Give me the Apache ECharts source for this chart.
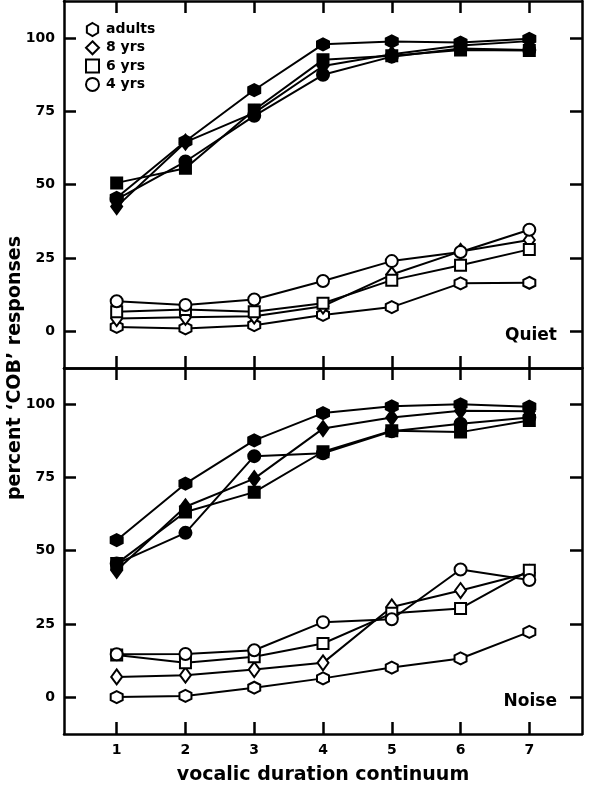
<!DOCTYPE html>
<html><head><meta charset="utf-8">
<script src="https://cdn.jsdelivr.net/npm/echarts@6/dist/echarts.min.js"></script>
<style>html,body{margin:0;padding:0;background:#fff}#c{width:596px;height:786px}</style>
</head><body><div id="c"></div><script>
// ---- data ----
const steps = [1, 2, 3, 4, 5, 6, 7];
const yTickValues = [0, 25, 50, 75, 100];
const groupNames = ['adults', '8 yrs', '6 yrs', '4 yrs'];

// Quiet panel, filled symbols
const quietFilledAdults = [45.5, 64.8, 82.3, 97.9, 98.9, 98.5, 99.8];
const quietFilled8 = [42.5, 64.5, 74.5, 90.5, 94.5, 97.5, 99.0];
const quietFilled6 = [50.6, 55.6, 75.5, 92.6, 94.0, 96.0, 95.8];
const quietFilled4 = [45.0, 57.9, 73.5, 87.5, 93.7, 96.5, 96.0];
// Quiet panel, open symbols
const quietOpenAdults = [1.4, 0.9, 2.0, 5.5, 8.2, 16.3, 16.5];
const quietOpen8 = [4.3, 4.7, 5.1, 8.5, 19.3, 27.2, 31.1];
const quietOpen6 = [6.6, 7.4, 6.6, 9.5, 17.4, 22.5, 27.9];
const quietOpen4 = [10.2, 8.9, 10.8, 17.1, 23.9, 27.0, 34.6];

// Noise panel, filled symbols
const noiseFilledAdults = [53.6, 72.9, 87.7, 97.0, 99.3, 100.0, 99.2];
const noiseFilled8 = [43.3, 65.0, 74.6, 91.7, 95.5, 97.8, 97.6];
const noiseFilled6 = [45.6, 63.2, 70.0, 83.8, 91.0, 90.5, 94.5];
const noiseFilled4 = [45.6, 56.1, 82.3, 83.3, 90.8, 93.4, 95.5];
// Noise panel, open symbols
const noiseOpenAdults = [0.0, 0.4, 3.2, 6.4, 10.1, 13.2, 22.3];
const noiseOpen8 = [6.9, 7.5, 9.4, 11.7, 30.8, 36.4, 42.5];
const noiseOpen6 = [14.4, 11.7, 13.8, 18.3, 28.6, 30.3, 43.3];
const noiseOpen4 = [14.6, 14.7, 16.0, 25.6, 26.6, 43.6, 40.0];

// ---- styling ----
const hexPath = 'path://M0,-10L8.66,-5L8.66,5L0,10L-8.66,5L-8.66,-5Z';
const symbols = {
  'adults': { symbol: hexPath, size: 12 },
  '8 yrs': { symbol: 'diamond', size: [11, 15] },
  '6 yrs': { symbol: 'rect', size: 11 },
  '4 yrs': { symbol: 'circle', size: 12 }
};
const FONT = 'DejaVu Sans';

function pairs(vals) { return steps.map((s, i) => [s, vals[i]]); }

function mkSeries(name, group, vals, filled, axisIdx) {
  return {
    name: name,
    type: 'line',
    xAxisIndex: axisIdx,
    yAxisIndex: axisIdx,
    data: pairs(vals),
    symbol: symbols[group].symbol,
    symbolSize: symbols[group].size,
    showAllSymbol: true,
    lineStyle: { color: '#000', width: 2 },
    itemStyle: { color: filled ? '#000' : '#fff', borderColor: '#000', borderWidth: 2, opacity: 1 },
    emphasis: { disabled: true },
    animation: false,
    z: filled ? 3 : 2
  };
}

const series = [
  mkSeries('adults', 'adults', quietOpenAdults, false, 0),
  mkSeries('8 yrs', '8 yrs', quietOpen8, false, 0),
  mkSeries('6 yrs', '6 yrs', quietOpen6, false, 0),
  mkSeries('4 yrs', '4 yrs', quietOpen4, false, 0),
  mkSeries('adults quiet filled', 'adults', quietFilledAdults, true, 0),
  mkSeries('8 yrs quiet filled', '8 yrs', quietFilled8, true, 0),
  mkSeries('6 yrs quiet filled', '6 yrs', quietFilled6, true, 0),
  mkSeries('4 yrs quiet filled', '4 yrs', quietFilled4, true, 0),
  mkSeries('adults noise open', 'adults', noiseOpenAdults, false, 2),
  mkSeries('8 yrs noise open', '8 yrs', noiseOpen8, false, 2),
  mkSeries('6 yrs noise open', '6 yrs', noiseOpen6, false, 2),
  mkSeries('4 yrs noise open', '4 yrs', noiseOpen4, false, 2),
  mkSeries('adults noise filled', 'adults', noiseFilledAdults, true, 2),
  mkSeries('8 yrs noise filled', '8 yrs', noiseFilled8, true, 2),
  mkSeries('6 yrs noise filled', '6 yrs', noiseFilled6, true, 2),
  mkSeries('4 yrs noise filled', '4 yrs', noiseFilled4, true, 2)
];

const axisLine = { show: true, onZero: false, lineStyle: { color: '#000', width: 2.5 } };
const tickStyle = { color: '#000', width: 2.5 };
const labelStyle = { color: '#000', fontFamily: FONT, fontWeight: 'bold', fontSize: 14 };

function xAx(gridIndex, position, showLabel, name) {
  const a = {
    type: 'value', gridIndex: gridIndex, position: position,
    min: 0.234, max: 7.766,
    axisLine: axisLine,
    axisTick: { show: true, inside: true, length: 12, lineStyle: tickStyle, customValues: steps },
    axisLabel: Object.assign({ show: showLabel, margin: 9, customValues: steps }, labelStyle),
    splitLine: { show: false }
  };
  if (name) {
    a.name = name; a.nameLocation = 'middle'; a.nameGap = 32;
    a.nameTextStyle = { color: '#000', fontFamily: FONT, fontWeight: 'bold', fontSize: 19 };
  }
  return a;
}
function yAx(gridIndex, position, showLabel, min, max) {
  return {
    type: 'value', gridIndex: gridIndex, position: position,
    min: min, max: max,
    axisLine: axisLine,
    axisTick: { show: true, inside: true, length: 12, lineStyle: tickStyle, customValues: yTickValues },
    axisLabel: Object.assign({ show: showLabel, margin: 9, customValues: yTickValues }, labelStyle),
    splitLine: { show: false }
  };
}

const chart = echarts.init(document.getElementById('c'), null, { renderer: 'canvas' });
chart.setOption({
  backgroundColor: '#fff',
  animation: false,
  grid: [
    { left: 64, top: 1, width: 518, height: 367 },
    { left: 64, top: 368, width: 518, height: 366 }
  ],
  xAxis: [
    xAx(0, 'bottom', false),
    xAx(0, 'top', false),
    xAx(1, 'bottom', true, 'vocalic duration continuum'),
    xAx(1, 'top', false)
  ],
  yAxis: [
    yAx(0, 'left', true, -12.6, 112.7),
    yAx(0, 'right', false, -12.6, 112.7),
    yAx(1, 'left', true, -12.6, 112.4),
    yAx(1, 'right', false, -12.6, 112.4)
  ],
  legend: {
    orient: 'vertical', left: 80, top: 17, padding: 5,
    itemWidth: 13, itemHeight: 13, itemGap: 3.3,
    data: [
      { name: 'adults', icon: hexPath },
      { name: '8 yrs', icon: 'diamond' },
      { name: '6 yrs', icon: 'rect' },
      { name: '4 yrs', icon: 'circle' }
    ],
    itemStyle: { color: '#fff', borderColor: '#000', borderWidth: 2 },
    textStyle: { color: '#000', fontFamily: FONT, fontWeight: 'bold', fontSize: 14, padding: [0, 0, 0, 2] },
    selectedMode: false
  },
  graphic: [
    { type: 'text', x: 15, y: 368, rotation: Math.PI / 2,
      style: { text: 'percent ‘COB’ responses', fill: '#000', font: 'bold 19px "DejaVu Sans"', align: 'center', verticalAlign: 'middle' } },
    { type: 'text', right: 39, top: 327,
      style: { text: 'Quiet', fill: '#000', font: 'bold 17px "DejaVu Sans"' } },
    { type: 'text', right: 39, top: 693,
      style: { text: 'Noise', fill: '#000', font: 'bold 17px "DejaVu Sans"' } }
  ],
  series: series
});
</script></body></html>
